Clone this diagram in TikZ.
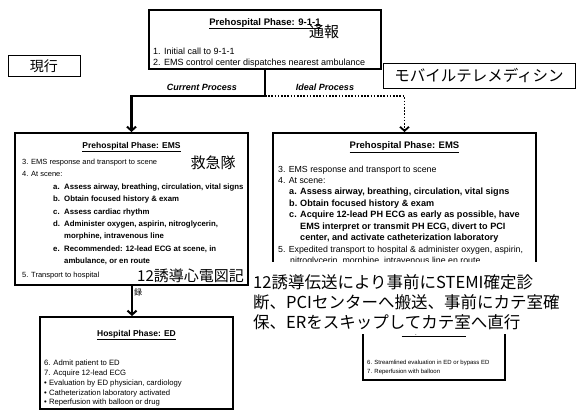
\documentclass[tikz,border=0pt]{standalone}
\usepackage{fontspec}
\setmainfont{Liberation Sans}
\newfontfamily\jp{Noto Sans CJK JP}
\usetikzlibrary{arrows.meta}
\tikzset{
  frame/.style={draw, line width=2pt, inner sep=0pt, fill=white},
  lbox/.style={draw, line width=1pt, inner sep=0pt},
  conn/.style={line width=2.2pt, -{Straight Barb[length=4pt,width=9pt,line width=2pt]}},
  dconn/.style={line width=1.6pt, dash pattern=on 1.6pt off 1.6pt, -{Straight Barb[length=4pt,width=9pt,line width=1.8pt]}},
  ttl/.style={anchor=base, inner sep=0pt, font=\bfseries\fontsize{8.5}{8.5}\selectfont},
  tx/.style={anchor=base west, inner sep=0pt, font=\fontsize{7.5}{8}\selectfont},
  tb/.style={anchor=base west, inner sep=0pt, font=\bfseries\fontsize{7.8}{8}\selectfont},
  rtx/.style={tx, font=\fontsize{8.8}{9}\selectfont},
  rtb/.style={tb, font=\bfseries\fontsize{9.1}{9}\selectfont},
  btx/.style={tx, font=\fontsize{7.7}{8}\selectfont},
  jpt/.style={inner sep=0pt, font=\jp\fontsize{15}{15}\selectfont},
  proc/.style={inner sep=0pt, font=\bfseries\itshape\fontsize{9}{9}\selectfont},
}
\begin{document}
\begin{tikzpicture}[x=1pt,y=-1pt]
\useasboundingbox (0,0) rectangle (582,413);
\fill[white] (0,0) rectangle (582,413);

% boxes
\node[frame, line width=2.5pt, minimum width=232pt, minimum height=59pt] (top) at (265,39.5) {};
\node[lbox, minimum width=72pt, minimum height=21pt] (genko) at (44,66) {};
\node[lbox, minimum width=192pt, minimum height=25pt] (mobile) at (479,75.5) {};
\node[frame, minimum width=233pt, minimum height=152pt] (left) at (131.5,209) {};
\node[frame, minimum width=263pt, minimum height=165pt] (right) at (404.5,215.5) {};
\node[frame, minimum width=193pt, minimum height=92pt] (bottom) at (136.5,363) {};
\node[frame, minimum width=142pt, minimum height=62pt] (bright) at (434,349) {};

% connectors
\coordinate (split) at (265,96);
\draw[line width=2.2pt] (top.south) -- (split);
\draw[conn] (split) -| (left.north);
\draw[dconn] (split) -| (right.north);
\draw[conn] (left.south -| 132,0) -- (bottom.north -| 132,0);

% labels on connectors
\node[proc] (cur) at (202,87) {Current Process};
\node[proc] (ide) at (325,87) {Ideal Process};

% side labels
\node[jpt, font=\jp\fontsize{14}{14}\selectfont] (genkot) at (genko) {現行};
\node[jpt, font=\jp\fontsize{15.5}{15.5}\selectfont] (mobilet) at (mobile) {モバイルテレメディシン};

% top box text
\node[ttl, font=\bfseries\fontsize{9.5}{9.5}\selectfont] (t0) at (265,25) {\underline{Prehospital Phase: 9-1-1}};
\node[jpt, font=\jp\fontsize{15}{15}\selectfont] (tsuho) at (324,32) {通報};
\node[tx, font=\fontsize{9}{9}\selectfont] (t1) at (153,54.5) {1. Initial call to 9-1-1};
\node[tx, font=\fontsize{9}{9}\selectfont] (t2) at (153,65.5) {2. EMS control center dispatches nearest ambulance};

% left box text
\node[ttl] (l0) at (131.5,148) {\underline{Prehospital Phase: EMS}};
\node[tx] (l1) at (22,164.5) {3. EMS response and transport to scene};
\node[tx] (l2) at (22,176.9) {4. At scene:};
\foreach \lab/\yy/\txt [count=\i] in {
  a./189.3/{Assess airway, breathing, circulation, vital signs},
  b./201.7/{Obtain focused history \& exam},
  c./214.1/{Assess cardiac rhythm},
  d./226.5/{Administer oxygen, aspirin, nitroglycerin,},
  /238.9/{morphine, intravenous line},
  e./251.3/{Recommended: 12-lead ECG at scene, in},
  /263.7/{ambulance, or en route}}{
  \node[tb] (la\i) at (53,\yy) {\lab};
  \node[tb] (lt\i) at (64,\yy) {\txt};
}
\node[tx] (l9) at (22,277) {5. Transport to hospital};
\node[jpt] (kyu) at (213,163) {救急隊};

% right box text
\node[ttl, font=\bfseries\fontsize{9.5}{9.5}\selectfont] (r0) at (404.5,148.5) {\underline{Prehospital Phase: EMS}};
\node[rtx] (r1) at (278,172) {3. EMS response and transport to scene};
\node[rtx] (r2) at (278,183) {4. At scene:};
\foreach \lab/\yy/\txt [count=\i] in {
  a./194.5/{Assess airway, breathing, circulation, vital signs},
  b./206/{Obtain focused history \& exam},
  c./217.5/{Acquire 12-lead PH ECG as early as possible, have},
  /229/{EMS interpret or transmit PH ECG, divert to PCI},
  /240.5/{center, and activate catheterization laboratory}}{
  \node[rtb] (ra\i) at (289,\yy) {\lab};
  \node[rtb] (rt\i) at (300,\yy) {\txt};
}
\node[rtx] (r8) at (278,252) {5. Expedited transport to hospital \& administer oxygen, aspirin,};
\node[rtx] (r9) at (290,263.5) {nitroglycerin, morphine, intravenous line en route};

% bottom box text
\node[ttl] (b0) at (136.5,336.5) {\underline{Hospital Phase: ED}};
\foreach \yy/\txt [count=\i] in {
  365.5/{6. Admit patient to ED},
  375.5/{7. Acquire 12-lead ECG},
  385.5/{\textbullet\ Evaluation by ED physician, cardiology},
  395/{\textbullet\ Catheterization laboratory activated},
  404.5/{\textbullet\ Reperfusion with balloon or drug}}{
  \node[btx] (bt\i) at (44,\yy) {\txt};
}

% bottom right box text
\node[ttl, font=\bfseries\fontsize{7}{7}\selectfont] (br0) at (434,333.5) {\underline{Hospital Phase: ED}};
\node[tx, font=\fontsize{6}{6}\selectfont] (br1) at (367,364) {6. Streamlined evaluation in ED or bypass ED};
\node[tx, font=\fontsize{6}{6}\selectfont] (br2) at (367,373) {7. Reperfusion with balloon};

% ECG note
\node[jpt, anchor=west] (ecg) at (137,276) {12誘導心電図記};
\node[jpt, font=\jp\fontsize{8}{8}\selectfont] (roku) at (138,292) {録};

% overlay
\node[fill=white, inner sep=0pt, minimum width=315pt, minimum height=72pt] (cover) at (407.5,298) {};
\foreach \yy/\txt [count=\i] in {
  282/{12誘導伝送により事前にSTEMI確定診},
  302/{断、PCIセンターへ搬送、事前にカテ室確},
  322/{保、ERをスキップしてカテ室へ直行}}{
  \node[jpt, anchor=west, font=\jp\fontsize{16.5}{16.5}\selectfont] (ov\i) at (253,\yy) {\txt};
}
\end{tikzpicture}
\end{document}
